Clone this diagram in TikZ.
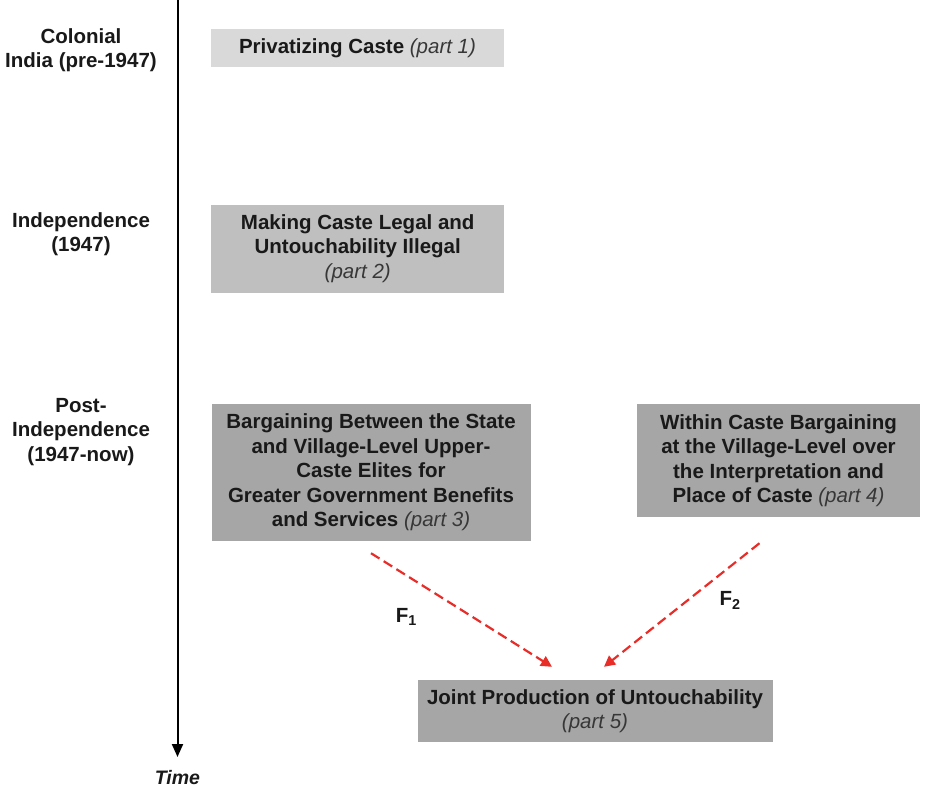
\documentclass[tikz,border=0pt]{standalone}
\usepackage{fontspec}
\setmainfont{Liberation Sans}
\usetikzlibrary{arrows.meta}
\definecolor{boxlight}{RGB}{217,217,217}
\definecolor{boxmid}{RGB}{191,191,191}
\definecolor{boxdark}{RGB}{166,166,166}
\definecolor{fred}{RGB}{232,45,40}
\definecolor{partgray}{RGB}{55,55,55}
\newcommand{\partno}[1]{{\mdseries\itshape\color{partgray}(part #1)}}

\begin{document}
\begin{tikzpicture}[x=1pt,y=-1pt,
    txt/.style={font=\fontsize{20.5}{24.5}\selectfont\bfseries,text=black!90,align=center,inner sep=0pt},
    era/.style={txt},
    stage/.style={txt,minimum width=#1,minimum height=1pt},
    fdash/.style={draw=fred,line width=2.2pt,dash pattern=on 10pt off 5pt,-{Triangle[length=11pt,width=11pt]}},
    timearrow/.style={draw=black,line width=2pt,-{Triangle[length=13pt,width=11pt]}}]
    \useasboundingbox (0,0) rectangle (935,790);
    % time axis
    \coordinate (ttop) at (177.5,0);
    \coordinate (tend) at (177.5,757);
    \draw[timearrow] (ttop) -- (tend);
    \node[txt,font=\fontsize{19.5}{24}\selectfont\bfseries\itshape] (time) at (177.5,778) {Time};
    % eras
    \node[era] (colonial) at (81,50) {Colonial\\India (pre-1947)};
    \node[era] (indep) at (81,234) {Independence\\(1947)};
    \node[era] (post) at (81,432) {Post-\\Independence\\(1947-now)};
    % stages
    \node[stage=293pt,fill=boxlight,minimum height=38pt] (priv) at (357.5,48) {Privatizing Caste \partno{1}};
    \node[stage=293pt,fill=boxmid,minimum height=88pt] (legal) at (357.75,248.5) {Making Caste Legal and\\Untouchability Illegal\\\partno{2}};
    \node[stage=319pt,fill=boxdark,minimum height=137pt] (bargain) at (371,472.5) {Bargaining Between the State\\and Village-Level Upper-\\Caste Elites for\\Greater Government Benefits\\and Services \partno{3}};
    \node[stage=283pt,fill=boxdark,minimum height=113pt] (within) at (778.5,460.5) {Within Caste Bargaining\\at the Village-Level over\\the Interpretation and\\Place of Caste \partno{4}};
    \node[stage=355pt,fill=boxdark,minimum height=62pt] (joint) at (595,711) {Joint Production of Untouchability\\\partno{5}};
    % forces
    \draw[fdash] ([yshift=-12pt]bargain.south) -- ([xshift=-43pt,yshift=13pt]joint.north)
        node[txt,pos=0.35,xshift=-28pt,yshift=-24pt] (f1) {F\textsubscript{1}};
    \draw[fdash] ([xshift=-19pt,yshift=-26pt]within.south) -- ([xshift=9pt,yshift=13pt]joint.north)
        node[txt,pos=0.35,xshift=25pt,yshift=-14pt] (f2) {F\textsubscript{2}};
\end{tikzpicture}
\end{document}
